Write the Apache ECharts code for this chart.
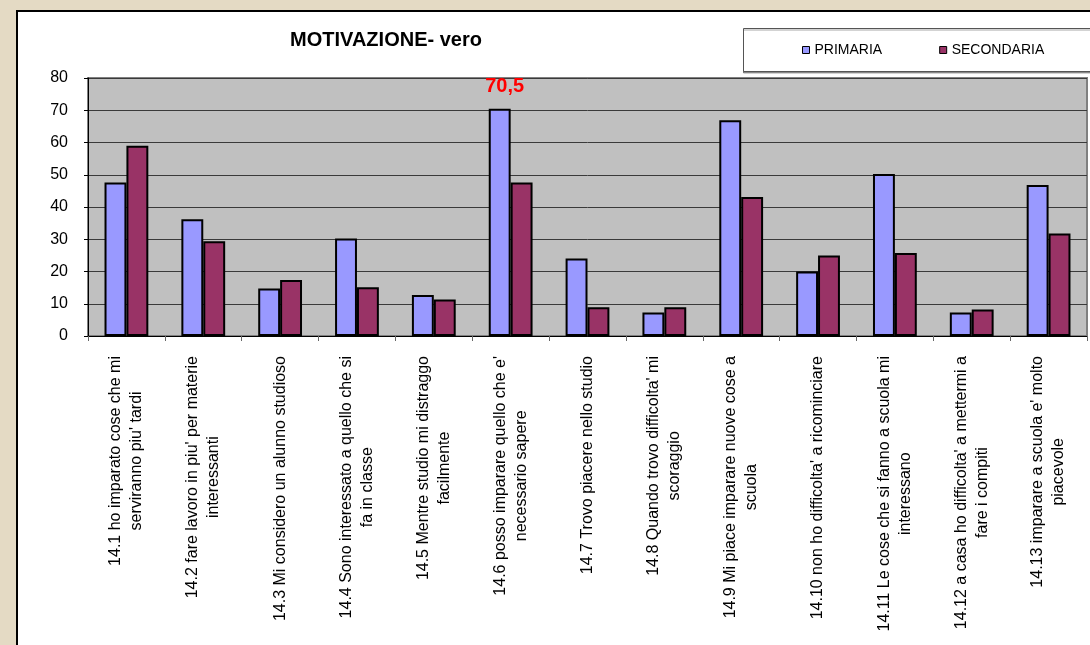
<!DOCTYPE html>
<html>
<head>
<meta charset="utf-8">
<title>MOTIVAZIONE- vero</title>
<script src="https://cdn.jsdelivr.net/npm/echarts@6/dist/echarts.min.js"></script>
<style>
  html, body { margin: 0; padding: 0; background: #e4dac4; }
  #chart { width: 1090px; height: 645px; }
</style>
</head>
<body>
<div id="chart"></div>
<script>
// categorie (a capo come nell'originale)
const categories = [
  "14.1 ho imparato cose che mi\nserviranno piu' tardi",
  "14.2 fare lavoro in piu' per materie\ninteressanti",
  '14.3 Mi considero un alunno studioso',
  '14.4 Sono interessato a quello che si\nfa in classe',
  '14.5 Mentre studio mi distraggo\nfacilmente',
  "14.6 posso imparare quello che e'\nnecessario sapere",
  '14.7 Trovo piacere nello studio',
  "14.8 Quando trovo difficolta' mi\nscoraggio",
  '14.9 Mi piace imparare nuove cose a\nscuola',
  "14.10 non ho difficolta' a ricominciare",
  '14.11 Le cose che si fanno a scuola mi\ninteressano',
  "14.12 a casa ho difficolta' a mettermi a\nfare i compiti",
  "14.13 imparare a scuola e' molto\npiacevole"
]
const primaria = [47.6, 36.2, 14.7, 30.2, 12.7, 70.5, 24.0, 7.3, 66.9, 20.0, 50.2, 7.3, 46.8]
const secondaria = [59.0, 29.4, 17.4, 15.1, 11.3, 47.6, 8.9, 8.9, 43.1, 25.0, 25.7, 8.2, 31.8]
const yTicks = [0, 80, 10] // min, max, passo

const FONT = '"Liberation Sans", Arial, sans-serif'
const maxPrimaria = Math.max(...primaria)

const chart = echarts.init(document.getElementById('chart'))
chart.setOption({
  backgroundColor: '#e4dac4',
  animation: false,
  textStyle: { fontFamily: FONT },
  graphic: [
    {
      // pannello bianco
      type: 'rect',
      z: -10,
      silent: true,
      shape: { x: 17, y: 11, width: 1200, height: 800 },
      style: { fill: '#fff', stroke: '#000', lineWidth: 2 }
    },
    {
      // riquadro legenda
      type: 'rect',
      z: -5,
      silent: true,
      shape: { x: 743.5, y: 28.5, width: 400, height: 43 },
      style: { fill: '#fff', stroke: '#555', lineWidth: 1, shadowColor: 'rgba(0,0,0,0.35)', shadowOffsetY: 1.5, shadowBlur: 0 }
    }
  ],
  title: {
    text: 'MOTIVAZIONE- vero',
    left: 386,
    top: 30,
    textAlign: 'center',
    padding: 0,
    textStyle: { fontFamily: FONT, fontSize: 20, fontWeight: 'bold', color: '#000' }
  },
  legend: {
    left: 802,
    top: 43,
    padding: 0,
    itemWidth: 7,
    itemHeight: 7,
    itemGap: 57,
    icon: 'rect',
    itemStyle: { borderColor: '#000', borderWidth: 1 },
    textStyle: { fontFamily: FONT, fontSize: 14, color: '#000' }
  },
  grid: {
    left: 88,
    right: 3,
    top: 78,
    bottom: 309,
    show: true,
    backgroundColor: '#c0c0c0',
    borderColor: '#808080',
    borderWidth: 2
  },
  xAxis: {
    type: 'category',
    data: categories,
    axisLine: { lineStyle: { color: '#000', width: 1 } },
    axisTick: { show: true, length: 5, lineStyle: { color: '#666' } },
    axisLabel: {
      interval: 0,
      rotate: 90,
      margin: 20,
      formatter: function (v) {
        return v.split('\n').map(function (s) { return '{c|' + s + '}' }).join('\n')
      },
      rich: {
        c: { align: 'center', fontFamily: FONT, fontSize: 16, lineHeight: 21, color: '#000' }
      }
    }
  },
  yAxis: {
    type: 'value',
    min: yTicks[0],
    max: yTicks[1],
    interval: yTicks[2],
    axisLine: { show: true, lineStyle: { color: '#000', width: 1 } },
    axisTick: { show: true, length: 4, lineStyle: { color: '#000' } },
    axisLabel: { margin: 20, fontFamily: FONT, fontSize: 16, color: '#000' },
    splitLine: { lineStyle: { color: '#3a3a3a', width: 1 } }
  },
  series: [
    {
      name: 'PRIMARIA',
      type: 'bar',
      barGap: 0,
      barCategoryGap: '43%',
      itemStyle: { color: '#9999ff', borderColor: '#000', borderWidth: 2 },
      data: primaria.map(function (v) {
        if (v !== maxPrimaria) return v
        return {
          value: v,
          label: {
            show: true,
            position: 'top',
            distance: 12,
            offset: [5, 0],
            formatter: function (p) { return String(p.value).replace('.', ',') },
            fontFamily: FONT,
            fontSize: 20,
            fontWeight: 'bold',
            color: '#ff0000'
          }
        }
      })
    },
    {
      name: 'SECONDARIA',
      type: 'bar',
      itemStyle: { color: '#993366', borderColor: '#000', borderWidth: 2 },
      data: secondaria
    }
  ]
})
</script>
</body>
</html>
